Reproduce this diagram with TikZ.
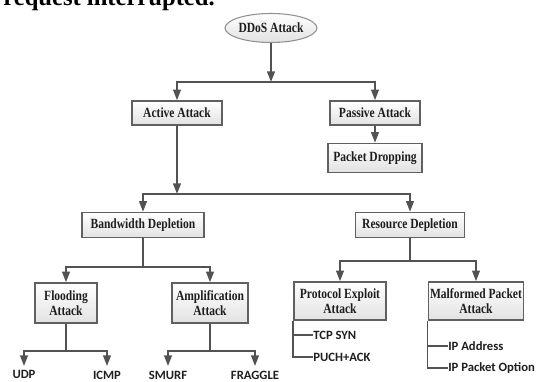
\documentclass[tikz,border=0pt]{standalone}
\usepackage{fontspec}
\setmainfont{Liberation Serif}
\newfontfamily\boxfont{Liberation Serif}[FakeStretch=0.82]
\newfontfamily\leaffont{Carlito}
\usepackage{xcolor}
\definecolor{treegray}{RGB}{82,82,82}
\definecolor{treeborder}{RGB}{96,96,96}
\definecolor{treefill}{RGB}{226,226,226}
\definecolor{treetext}{RGB}{30,30,30}
\usepackage{tikz}
\usetikzlibrary{arrows.meta,shapes.geometric}
\tikzset{
  tree box/.style={draw=treeborder, line width=0.9pt, top color=white, bottom color=treefill, align=center, inner sep=1pt, text=treetext, font=\boxfont\bfseries\fontsize{8}{8.5}\selectfont},
  tree root/.style={draw=treeborder!70, ellipse, line width=0.6pt, top color=white, bottom color=treefill, inner sep=0pt, text=treetext, font=\boxfont\bfseries\fontsize{8}{8.5}\selectfont},
  tree edge/.style={-{Triangle[length=6pt,width=4.4pt]}, draw=treegray, line width=0.85pt},
  tree line/.style={draw=treegray, line width=0.85pt},
  tree leaf/.style={anchor=north, inner sep=2.5pt, text=treetext, font=\leaffont\bfseries\fontsize{7.2}{8}\selectfont},
  tree item/.style={anchor=west, inner sep=0pt, text=treetext, font=\leaffont\bfseries\fontsize{7.2}{8}\selectfont},
}

\begin{document}
\begin{tikzpicture}
  \useasboundingbox (0,0) rectangle (10.74,7.62);
  % text cut off above the figure
  \node[anchor=base west, inner sep=0pt, font=\bfseries\fontsize{14}{16}\selectfont] (lead) at (0.06,7.50) {request interrupted.};

  % root and first level
  \node[tree root, minimum width=1.72cm, minimum height=0.58cm] (ddos) at (5.42,7.06) {DDoS Attack};
  \coordinate (j1) at (5.42,5.98);
  \node[tree box, minimum width=1.80cm, minimum height=0.48cm] (active) at (3.54,5.36) {Active Attack};
  \node[tree box, minimum width=1.80cm, minimum height=0.48cm] (passive) at (7.50,5.36) {Passive Attack};
  \node[tree box, minimum width=1.88cm, minimum height=0.58cm] (drop) at (7.50,4.46) {Packet Dropping};
  \draw[tree edge] (ddos) -- (j1);
  \draw[tree edge] (j1) -| (active);
  \draw[tree edge] (j1) -| (passive);
  \draw[tree edge] (passive) -- (drop);

  % depletion level
  \coordinate (j2) at (3.54,3.74);
  \node[tree box, minimum width=2.44cm, minimum height=0.50cm] (band) at (2.86,3.12) {Bandwidth Depletion};
  \node[tree box, minimum width=2.18cm, minimum height=0.50cm] (res) at (8.20,3.12) {Resource Depletion};
  \draw[tree edge] (active) -- (j2);
  \draw[tree edge] (j2) -| (band);
  \draw[tree edge] (j2) -| (res);

  % bandwidth side
  \coordinate (j3) at (2.86,2.28);
  \node[tree box, minimum width=1.24cm, minimum height=0.80cm] (flood) at (1.32,1.56) {Flooding\\Attack};
  \node[tree box, minimum width=1.52cm, minimum height=0.80cm] (ampl) at (4.20,1.56) {Amplification\\Attack};
  \draw[tree line] (band) -- (j3);
  \draw[tree edge] (j3) -| (flood);
  \draw[tree edge] (j3) -| (ampl);

  \coordinate (j4) at (1.32,0.60);
  \coordinate (j5) at (4.20,0.60);
  \node[tree leaf] (udp) at (0.48,0.30) {UDP};
  \node[tree leaf] (icmp) at (2.14,0.30) {ICMP};
  \node[tree leaf] (smurf) at (3.36,0.30) {SMURF};
  \node[tree leaf] (fraggle) at (5.10,0.30) {FRAGGLE};
  \draw[tree line] (flood) -- (j4);
  \draw[tree edge] (j4) -| (udp);
  \draw[tree edge] (j4) -| (icmp);
  \draw[tree line] (ampl) -- (j5);
  \draw[tree edge] (j5) -| (smurf);
  \draw[tree edge] (j5) -| (fraggle);

  % resource side
  \coordinate (j6) at (8.20,2.40);
  \node[tree box, minimum width=1.84cm, minimum height=0.76cm] (proto) at (6.80,1.60) {Protocol Exploit\\Attack};
  \node[tree box, minimum width=1.86cm, minimum height=0.76cm] (malf) at (9.52,1.60) {Malformed Packet\\Attack};
  \draw[tree line] (res) -- (j6);
  \draw[tree edge] (j6) -| (proto);
  \draw[tree edge] (j6) -| (malf);

  \node[tree item] (syn) at (6.26,0.92) {TCP SYN};
  \node[tree item] (ack) at (6.26,0.48) {PUCH+ACK};
  \node[tree item] (addr) at (8.96,0.70) {IP Address};
  \node[tree item] (opt) at (8.96,0.26) {IP Packet Option};
  \draw[tree line] (proto.south west) |- (syn.west);
  \draw[tree line] (proto.south west) |- (ack.west);
  \draw[tree line] (malf.south west) |- (addr.west);
  \draw[tree line] (malf.south west) |- (opt.west);
\end{tikzpicture}
\end{document}
